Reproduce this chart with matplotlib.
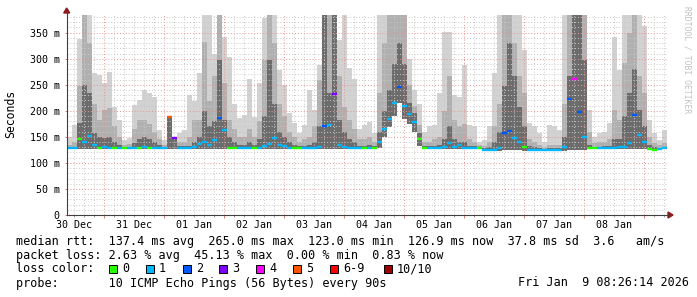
import numpy as np
import pandas as pd
import matplotlib
matplotlib.use("Agg")
import matplotlib.pyplot as plt
import matplotlib.dates as mdates
from matplotlib.ticker import MultipleLocator, FuncFormatter, NullFormatter
from matplotlib.patches import Rectangle, Polygon
from matplotlib.lines import Line2D

plt.rcParams['font.family'] = 'DejaVu Sans Mono'

# smokeping data, one value per 2 hour bucket starting 30 Dec 09:00 (ms)
smoke_max = [150, 172, 337, 384, 384, 272, 269, 253, 275, 208, 182, 144, 147, 211, 221, 240, 234, 227, 163, 144,
             190, 147, 157, 163, 230, 218, 272, 384, 384, 310, 384, 342, 304, 214, 186, 192, 262, 189, 253, 378,
             384, 384, 278, 250, 195, 176, 157, 173, 240, 202, 288, 384, 384, 384, 336, 384, 282, 262, 166, 173,
             179, 157, 384, 384, 384, 384, 384, 384, 300, 240, 214, 160, 170, 173, 234, 352, 352, 230, 227, 288,
             173, 170, 141, 144, 170, 272, 384, 384, 384, 384, 384, 317, 176, 170, 157, 141, 173, 170, 163, 384,
             384, 384, 384, 384, 202, 150, 157, 160, 176, 342, 278, 384, 384, 384, 384, 362, 182, 157, 144, 163]
smoke_mid = [134, 140, 247, 384, 330, 214, 182, 202, 205, 170, 150, 135, 136, 165, 182, 182, 175, 160, 145, 135,
             190, 147, 140, 140, 150, 182, 182, 333, 218, 266, 384, 253, 182, 165, 150, 150, 166, 150, 180, 298,
             384, 330, 214, 190, 160, 150, 140, 145, 150, 170, 260, 384, 384, 384, 266, 208, 182, 165, 145, 145,
             150, 140, 234, 330, 384, 384, 384, 384, 250, 210, 172, 140, 140, 145, 150, 200, 266, 182, 170, 175,
             145, 140, 134, 132, 140, 170, 214, 384, 384, 330, 266, 234, 145, 140, 135, 130, 135, 135, 135, 214,
             384, 384, 384, 384, 160, 138, 140, 140, 145, 202, 182, 291, 349, 384, 266, 234, 150, 138, 134, 138]
smoke_dark = [130, 131, 176, 250, 234, 157, 150, 148, 150, 140, 135, 130, 130, 138, 145, 150, 145, 140, 134, 130,
              189, 147, 132, 132, 133, 140, 150, 200, 170, 180, 298, 182, 150, 140, 135, 135, 140, 135, 145, 190,
              298, 214, 160, 150, 140, 135, 132, 133, 135, 140, 170, 384, 234, 384, 182, 160, 145, 140, 133, 133,
              135, 132, 160, 200, 240, 290, 330, 290, 215, 195, 158, 132, 132, 133, 135, 145, 170, 145, 140, 140,
              133, 132, 130, 128, 130, 140, 160, 247, 330, 266, 208, 170, 132, 130, 128, 127, 128, 128, 128, 150,
              266, 384, 384, 298, 135, 130, 131, 132, 133, 145, 145, 190, 234, 280, 202, 170, 135, 130, 129, 130]
smoke_min = [126, 126, 127, 126, 127, 126, 126, 126, 126, 126, 126, 126, 126, 126, 126, 126, 126, 126, 126, 126,
             126, 126, 126, 126, 126, 126, 126, 126, 126, 126, 127, 127, 126, 126, 126, 126, 126, 126, 126, 126,
             126, 127, 126, 126, 126, 126, 126, 126, 126, 126, 126, 127, 127, 127, 126, 126, 126, 126, 126, 126,
             126, 126, 128, 150, 168, 190, 215, 185, 175, 160, 132, 126, 126, 126, 126, 126, 126, 126, 126, 126,
             126, 126, 126, 123, 122, 122, 123, 124, 124, 124, 124, 123, 122, 122, 122, 122, 122, 122, 122, 123,
             124, 124, 124, 124, 126, 126, 126, 126, 126, 126, 126, 126, 126, 126, 126, 126, 124, 122, 124, 126]
median_rtt = [128, 128, 145, 140, 152, 135, 128, 130, 128, 128, 128, 128, 128, 128, 128, 130, 128, 128, 128, 128,
              189, 147, 128, 128, 128, 130, 136, 140, 135, 144, 186, 163, 128, 128, 128, 128, 128, 128, 128, 132,
              137, 147, 135, 132, 128, 128, 128, 128, 128, 128, 130, 171, 173, 232, 134, 130, 128, 128, 128, 128,
              128, 128, 140, 165, 185, 215, 245, 210, 193, 178, 145, 128, 128, 128, 128, 130, 138, 130, 134, 128,
              128, 128, 128, 125, 124, 124, 128, 157, 162, 147, 141, 130, 124, 124, 124, 124, 124, 124, 124, 131,
              222, 262, 198, 150, 128, 128, 128, 128, 128, 128, 130, 131, 138, 192, 153, 140, 126, 124, 126, 128]
loss = [1, 1, 0, 1, 1, 1, 0, 1, 1, 0, 1, 0, 1, 1, 0, 1, 0, 1, 1, 1,
        5, 3, 1, 1, 1, 1, 1, 1, 1, 1, 2, 1, 0, 0, 1, 1, 1, 0, 1, 1,
        1, 1, 1, 1, 1, 0, 0, 1, 1, 1, 1, 2, 1, 3, 1, 1, 1, 1, 1, 0,
        1, 0, 1, 1, 1, 1, 2, 1, 1, 1, 0, 0, 1, 1, 1, 1, 1, 1, 1, 1,
        1, 1, 0, 1, 1, 1, 1, 2, 2, 1, 1, 0, 1, 1, 1, 1, 1, 1, 1, 1,
        2, 4, 2, 1, 0, 0, 1, 1, 1, 1, 1, 1, 1, 2, 1, 1, 0, 0, 1, 1]

loss_colors = ['#26ff00', '#00b8ff', '#0059ff', '#7e00ff', '#ff00ff', '#ff5500', '#ff0000', '#a00000']
loss_labels = ['0', '1', '2', '3', '4', '5', '6-9', '10/10']

W, H = 697, 297
fig = plt.figure(figsize=(W / 100, H / 100), dpi=100)
fig.patch.set_facecolor('white')


def fp(x, y):
    # pixel position -> figure fraction
    return x / W, 1 - y / H


ax = fig.add_axes([66.7 / W, 82 / H, 600 / W, 200 / H])

times = pd.date_range('2025-12-30 09:00', periods=len(median_rtt), freq='2h')
x = mdates.date2num(times.to_pydatetime())
step = 2 / 24
xe = np.append(x, x[-1] + step)


def ext(a):
    a = np.asarray(a, dtype=float) / 1000.0
    return np.append(a, a[-1])


lo = ext(smoke_min)
for top, col in [(smoke_max, '#d2d2d2'), (smoke_mid, '#b0b0b0'), (smoke_dark, '#6c6c6c')]:
    ax.fill_between(xe, lo, ext(top), step='post', color=col, lw=0, zorder=1)

med = np.asarray(median_rtt) / 1000.0
cols = [loss_colors[min(l, 6) if l < 10 else 7] for l in loss]
ax.hlines(med, x, x + step, colors=cols, lw=1.7, zorder=4, capstyle='butt')

ax.set_xlim(mdates.date2num(pd.Timestamp('2025-12-30 09:00')),
            mdates.date2num(pd.Timestamp('2026-01-09 09:00')))
ax.set_ylim(0, 0.384)

ax.yaxis.set_major_locator(MultipleLocator(0.05))
ax.yaxis.set_minor_locator(MultipleLocator(0.01))
ax.yaxis.set_major_formatter(FuncFormatter(lambda v, p: '0' if abs(v) < 1e-9 else '%d m' % round(v * 1000)))

ax.xaxis.set_major_locator(mdates.DayLocator())
ax.xaxis.set_minor_locator(mdates.HourLocator(byhour=range(0, 24, 4)))
ax.xaxis.set_major_formatter(NullFormatter())


def day_label(v, p):
    d = mdates.num2date(v)
    return d.strftime('%d %b') if d.hour == 12 else ''


ax.xaxis.set_minor_formatter(FuncFormatter(day_label))

ax.set_axisbelow(False)
ax.grid(which='minor', color='#c8c8c8', linestyle=(0, (1, 2)), lw=0.7, zorder=2)
ax.grid(which='major', color='#e49494', linestyle=(0, (1, 2)), lw=0.7, zorder=2.5)

ax.tick_params(axis='both', which='both', labelsize=7.2, colors='#000000', length=1.5, width=0.7)
ax.tick_params(axis='x', which='major', color='#d08080', length=2)
ax.tick_params(axis='x', which='minor', color='#a0a0a0', pad=2)
ax.tick_params(axis='y', which='minor', length=0)
ax.tick_params(axis='y', which='major', color='#d08080', pad=3.5)
for s in ax.spines.values():
    s.set_visible(False)

# axes with arrows like rrdtool
fig.add_artist(Line2D([66.7 / W, 668 / W], [1 - 215 / H, 1 - 215 / H], color='#404040', lw=0.8))
fig.add_artist(Line2D([66.7 / W, 66.7 / W], [1 - 215 / H, 1 - 12 / H], color='#404040', lw=0.8))
fig.add_artist(Polygon([fp(668, 212), fp(668, 218), fp(673, 215)], closed=True, color='#8b1a1a'))
fig.add_artist(Polygon([fp(63.7, 13), fp(69.7, 13), fp(66.7, 8)], closed=True, color='#8b1a1a'))

fig.text(*fp(11, 114), 'Seconds', rotation=90, fontsize=8.3, ha='center', va='center')
fig.text(*fp(687, 60), 'RRDTOOL / TOBI OETIKER', rotation=270, fontsize=5.8, color='#c2c2c2',
         ha='center', va='center')

fs = 8.5
fig.text(*fp(16, 241), 'median rtt:  137.4 ms avg  265.0 ms max  123.0 ms min  126.9 ms now  37.8 ms sd  3.6   am/s',
         fontsize=fs, va='center')
fig.text(*fp(16, 255), 'packet loss: 2.63 % avg  45.13 % max  0.00 % min  0.83 % now', fontsize=fs, va='center')
fig.text(*fp(16, 269), 'loss color:', fontsize=fs, va='center')
box_x = [109, 146, 183, 219, 256, 293, 330, 384]
for bx, c, lab in zip(box_x, loss_colors, loss_labels):
    fig.add_artist(Rectangle(fp(bx, 273), 8 / W, 8 / H, facecolor=c, edgecolor='black', lw=0.7))
    fig.text(*fp(bx + 13, 269), lab, fontsize=fs, va='center')
fig.text(*fp(16, 283), 'probe:       10 ICMP Echo Pings (56 Bytes) every 90s', fontsize=fs, va='center')
fig.text(*fp(689, 283), 'Fri Jan  9 08:26:14 2026', fontsize=fs, va='center', ha='right')

fig.savefig('out.png', dpi=100)
